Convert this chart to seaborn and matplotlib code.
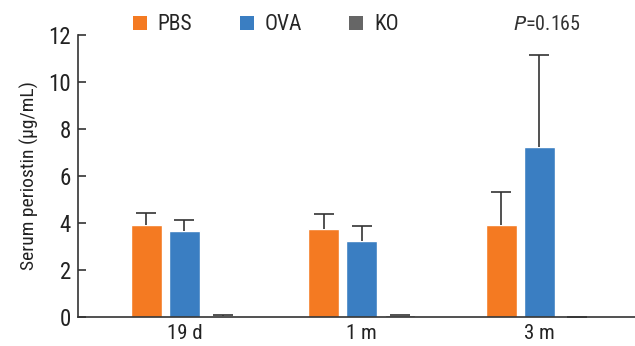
import matplotlib
matplotlib.use("Agg")
import matplotlib.pyplot as plt
from matplotlib.patches import Patch
from matplotlib import font_manager
import seaborn as sns
import pandas as pd
import numpy as np

# Serum periostin by time point and group
timepoints = ["19 d", "1 m", "3 m"]
groups = ["PBS", "OVA", "KO"]
pbs_mean = [3.93, 3.76, 3.93]
ova_mean = [3.67, 3.25, 7.22]
ko_mean = [0.03, 0.08, 0.0]
pbs_err = [0.48, 0.62, 1.37]
ova_err = [0.47, 0.61, 3.92]
ko_err = [0.06, 0.0, 0.0]
p_label = "0.165"

colors = {"PBS": "#F47A22", "OVA": "#3A7EC2", "KO": "#666666"}

names = {f.name for f in font_manager.fontManager.ttflist}
family = next((f for f in ["Roboto Condensed", "Liberation Sans Narrow",
                           "Open Sans Condensed", "Roboto"] if f in names), "DejaVu Sans")

sns.set_theme(style="white")
plt.rcParams["font.family"] = [family, "DejaVu Sans"]

rows = []
for g, means, errs in [("PBS", pbs_mean, pbs_err), ("OVA", ova_mean, ova_err), ("KO", ko_mean, ko_err)]:
    for t, m, e in zip(timepoints, means, errs):
        rows.append({"time": t, "group": g, "value": m, "err": e})
df = pd.DataFrame(rows)

fig = plt.figure(figsize=(6.35, 3.46), dpi=100)
ax = fig.add_axes([78 / 635, 29 / 346, 1 - 78 / 635, 282 / 346])

sns.barplot(data=df, x="time", y="value", hue="group", order=timepoints,
            hue_order=groups, palette=colors, width=0.645, gap=0.19,
            errorbar=None, saturation=1, legend=False, ax=ax)

# upper-only error bars placed at each bar's centre
for patch_group, g in zip(np.array_split(ax.patches[:9], 3), groups):
    sub = df[df.group == g].set_index("time").loc[timepoints]
    xs = [p.get_x() + p.get_width() / 2 for p in patch_group]
    _, caps, _ = ax.errorbar(xs, sub["value"], yerr=[np.zeros(3), sub["err"]], fmt="none",
                             ecolor="#333333", elinewidth=1.2, capsize=7.5, capthick=1.2,
                             zorder=3)
    caps[0].set_visible(False)

ax.set_xlim(-0.60, 2.54)
ax.set_ylim(0, 12)
ax.set_yticks(range(0, 13, 2))
ax.set_xlabel("")
ax.set_ylabel("Serum periostin (μg/mL)", fontsize=14, color="#222222", labelpad=7)
ax.tick_params(axis="y", direction="in", length=6, width=1.2, color="#333333",
               labelsize=16.5, labelcolor="#222222", pad=5, left=True)
ax.tick_params(axis="x", length=0, labelsize=15, labelcolor="#222222", pad=5)
for s in ["top", "right"]:
    ax.spines[s].set_visible(False)
for s in ["left", "bottom"]:
    ax.spines[s].set_color("#333333")
    ax.spines[s].set_linewidth(1.2)

ova3 = ax.patches[5]
ax.text(ova3.get_x() + ova3.get_width() / 2 + 0.045, 12.05, "$\\it{P}$=" + p_label,
        ha="center", va="bottom", fontsize=14.5, color="#333333", clip_on=False)

handles = [Patch(facecolor=colors[g], edgecolor="none", label=g) for g in groups]
fig.legend(handles=handles, loc="center left", bbox_to_anchor=(118 / 635, 1 - 25 / 346),
           ncol=3, frameon=False, fontsize=15.5, handlelength=0.65, handleheight=0.65,
           handletextpad=0.5, columnspacing=2.2, borderpad=0.2)

fig.savefig("out.png", dpi=100)
